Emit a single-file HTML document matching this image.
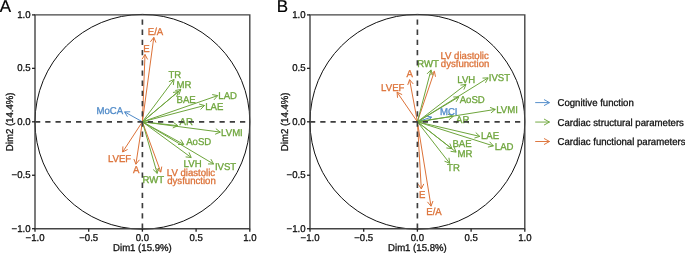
<!DOCTYPE html>
<html><head><meta charset="utf-8"><style>
html,body{margin:0;padding:0;background:#fff;}
body{width:685px;height:253px;overflow:hidden;}
svg{display:block;will-change:transform;font-family:"Liberation Sans",sans-serif;}
text{stroke-width:0.3px;paint-order:stroke;text-rendering:geometricPrecision;}
</style></head><body>
<svg width="685" height="253" viewBox="0 0 685 253">
<rect width="685" height="253" fill="#fff"/>
<circle cx="142.40" cy="121.80" r="107.40" stroke="#111" stroke-width="1.0" fill="none"/>
<path d="M142.40,121.80L124.60,111.90M127.48,116.70L124.60,111.90L130.20,111.81" stroke="#4f8ac8" stroke-width="1.0" fill="none"/>
<path d="M142.40,121.80L153.80,37.40M150.38,41.83L153.80,37.40L155.93,42.58" stroke="#dc7238" stroke-width="1.0" fill="none"/>
<path d="M142.40,121.80L145.00,54.50M142.01,59.24L145.00,54.50L147.61,59.45" stroke="#dc7238" stroke-width="1.0" fill="none"/>
<path d="M142.40,121.80L122.60,152.00M127.60,149.48L122.60,152.00L122.92,146.41" stroke="#dc7238" stroke-width="1.0" fill="none"/>
<path d="M142.40,121.80L135.90,164.20M139.40,159.83L135.90,164.20L133.87,158.98" stroke="#dc7238" stroke-width="1.0" fill="none"/>
<path d="M142.40,121.80L160.80,172.10M161.76,166.58L160.80,172.10L156.50,168.51" stroke="#dc7238" stroke-width="1.0" fill="none"/>
<path d="M142.40,121.80L174.00,79.50M168.85,81.71L174.00,79.50L173.34,85.06" stroke="#6ea53c" stroke-width="1.0" fill="none"/>
<path d="M142.40,121.80L180.80,89.50M175.29,90.48L180.80,89.50L178.89,94.76" stroke="#6ea53c" stroke-width="1.0" fill="none"/>
<path d="M142.40,121.80L178.50,91.50M172.99,92.47L178.50,91.50L176.59,96.76" stroke="#6ea53c" stroke-width="1.0" fill="none"/>
<path d="M142.40,121.80L217.70,95.60M212.20,94.55L217.70,95.60L214.04,99.84" stroke="#6ea53c" stroke-width="1.0" fill="none"/>
<path d="M142.40,121.80L204.50,105.50M199.10,104.02L204.50,105.50L200.52,109.44" stroke="#6ea53c" stroke-width="1.0" fill="none"/>
<path d="M142.40,121.80L177.90,125.70M173.39,122.39L177.90,125.70L172.77,127.95" stroke="#6ea53c" stroke-width="1.0" fill="none"/>
<path d="M142.40,121.80L220.30,132.10M215.86,128.69L220.30,132.10L215.13,134.24" stroke="#6ea53c" stroke-width="1.0" fill="none"/>
<path d="M142.40,121.80L183.70,144.40M180.79,139.62L183.70,144.40L178.10,144.53" stroke="#6ea53c" stroke-width="1.0" fill="none"/>
<path d="M142.40,121.80L191.20,157.50M188.94,152.38L191.20,157.50L185.63,156.90" stroke="#6ea53c" stroke-width="1.0" fill="none"/>
<path d="M142.40,121.80L213.60,164.00M210.86,159.12L213.60,164.00L208.00,163.94" stroke="#6ea53c" stroke-width="1.0" fill="none"/>
<path d="M142.40,121.80L157.20,173.40M158.55,167.97L157.20,173.40L153.17,169.51" stroke="#6ea53c" stroke-width="1.0" fill="none"/>
<text transform="translate(96.51,114.00) scale(1,1.04)" fill="#4f8ac8" stroke="#4f8ac8" font-size="9.6">MoCA</text>
<text transform="translate(147.81,35.00) scale(1,1.04)" fill="#dc7238" stroke="#dc7238" font-size="9.6">E/A</text>
<text transform="translate(143.21,52.40) scale(1,1.04)" fill="#dc7238" stroke="#dc7238" font-size="9.6">E</text>
<text transform="translate(107.91,161.80) scale(1,1.04)" fill="#dc7238" stroke="#dc7238" font-size="9.6">LVEF</text>
<text transform="translate(132.98,173.30) scale(1,1.04)" fill="#dc7238" stroke="#dc7238" font-size="9.6">A</text>
<text transform="translate(166.81,176.20) scale(1,1.04)" fill="#dc7238" stroke="#dc7238" font-size="9.6">LV diastolic</text>
<text transform="translate(167.20,184.00) scale(1,1.04)" fill="#dc7238" stroke="#dc7238" font-size="9.6">dysfunction</text>
<text transform="translate(168.38,78.00) scale(1,1.04)" fill="#6ea53c" stroke="#6ea53c" font-size="9.6">TR</text>
<text transform="translate(176.51,87.80) scale(1,1.04)" fill="#6ea53c" stroke="#6ea53c" font-size="9.6">MR</text>
<text transform="translate(176.51,102.80) scale(1,1.04)" fill="#6ea53c" stroke="#6ea53c" font-size="9.6">BAE</text>
<text transform="translate(218.31,98.80) scale(1,1.04)" fill="#6ea53c" stroke="#6ea53c" font-size="9.6">LAD</text>
<text transform="translate(205.21,110.00) scale(1,1.04)" fill="#6ea53c" stroke="#6ea53c" font-size="9.6">LAE</text>
<text transform="translate(179.58,124.50) scale(1,1.04)" fill="#6ea53c" stroke="#6ea53c" font-size="9.6">AR</text>
<text transform="translate(221.11,135.50) scale(1,1.04)" fill="#6ea53c" stroke="#6ea53c" font-size="9.6">LVMI</text>
<text transform="translate(186.18,145.20) scale(1,1.04)" fill="#6ea53c" stroke="#6ea53c" font-size="9.6">AoSD</text>
<text transform="translate(183.61,166.70) scale(1,1.04)" fill="#6ea53c" stroke="#6ea53c" font-size="9.6">LVH</text>
<text transform="translate(214.91,169.70) scale(1,1.04)" fill="#6ea53c" stroke="#6ea53c" font-size="9.6">IVST</text>
<text transform="translate(142.41,183.10) scale(1,1.04)" fill="#6ea53c" stroke="#6ea53c" font-size="9.6">RWT</text>
<path d="M35.00,121.80H249.80" stroke="#3d3d3d" stroke-width="1.65" stroke-dasharray="5.25 5.0"/>
<path d="M142.40,228.70V14.90" stroke="#3d3d3d" stroke-width="1.65" stroke-dasharray="5.3 4.9"/>
<path d="M35.00,14.90H249.80V228.70H35.00Z" stroke="#444" stroke-width="1.4" fill="none"/>
<path d="M32.00,228.70H35.00" stroke="#222" stroke-width="1.3"/>
<path d="M35.00,228.70V231.70" stroke="#222" stroke-width="1.3"/>
<text transform="translate(30.50,231.75) scale(1,1.04)" text-anchor="end" fill="#111" stroke="#111" font-size="9.6">−1.0</text>
<text transform="translate(35.00,240.70) scale(1,1.04)" text-anchor="middle" fill="#111" stroke="#111" font-size="9.6">−1.0</text>
<path d="M32.00,175.25H35.00" stroke="#222" stroke-width="1.3"/>
<path d="M88.70,228.70V231.70" stroke="#222" stroke-width="1.3"/>
<text transform="translate(30.50,178.30) scale(1,1.04)" text-anchor="end" fill="#111" stroke="#111" font-size="9.6">−0.5</text>
<text transform="translate(88.70,240.70) scale(1,1.04)" text-anchor="middle" fill="#111" stroke="#111" font-size="9.6">−0.5</text>
<path d="M32.00,121.80H35.00" stroke="#222" stroke-width="1.3"/>
<path d="M142.40,228.70V231.70" stroke="#222" stroke-width="1.3"/>
<text transform="translate(30.50,124.85) scale(1,1.04)" text-anchor="end" fill="#111" stroke="#111" font-size="9.6">0.0</text>
<text transform="translate(142.40,240.70) scale(1,1.04)" text-anchor="middle" fill="#111" stroke="#111" font-size="9.6">0.0</text>
<path d="M32.00,68.35H35.00" stroke="#222" stroke-width="1.3"/>
<path d="M196.10,228.70V231.70" stroke="#222" stroke-width="1.3"/>
<text transform="translate(30.50,71.40) scale(1,1.04)" text-anchor="end" fill="#111" stroke="#111" font-size="9.6">0.5</text>
<text transform="translate(196.10,240.70) scale(1,1.04)" text-anchor="middle" fill="#111" stroke="#111" font-size="9.6">0.5</text>
<path d="M32.00,14.90H35.00" stroke="#222" stroke-width="1.3"/>
<path d="M249.80,228.70V231.70" stroke="#222" stroke-width="1.3"/>
<text transform="translate(30.50,17.95) scale(1,1.04)" text-anchor="end" fill="#111" stroke="#111" font-size="9.6">1.0</text>
<text transform="translate(249.80,240.70) scale(1,1.04)" text-anchor="middle" fill="#111" stroke="#111" font-size="9.6">1.0</text>
<text transform="translate(142.40,251.00) scale(1,1.04)" text-anchor="middle" fill="#111" stroke="#111" font-size="9.6">Dim1 (15.9%)</text>
<text transform="translate(13.20,121.80) rotate(-90) scale(1,1.04)" text-anchor="middle" fill="#111" stroke="#111" font-size="9.6">Dim2 (14.4%)</text>
<text transform="translate(-0.30,11.5) scale(1,1.01)" fill="#000" stroke="#000" font-size="17" style="stroke-width:0.2px">A</text>
<circle cx="417.40" cy="121.80" r="107.40" stroke="#111" stroke-width="1.0" fill="none"/>
<path d="M417.40,121.80L431.60,117.10M426.12,115.97L431.60,117.10L427.88,121.28" stroke="#4f8ac8" stroke-width="1.0" fill="none"/>
<path d="M417.40,121.80L421.30,188.90M423.81,183.90L421.30,188.90L418.22,184.22" stroke="#dc7238" stroke-width="1.0" fill="none"/>
<path d="M417.40,121.80L431.00,206.20M432.99,200.97L431.00,206.20L427.46,201.86" stroke="#dc7238" stroke-width="1.0" fill="none"/>
<path d="M417.40,121.80L409.60,79.70M407.73,84.98L409.60,79.70L413.24,83.96" stroke="#dc7238" stroke-width="1.0" fill="none"/>
<path d="M417.40,121.80L397.10,92.20M397.53,97.78L397.10,92.20L402.15,94.62" stroke="#dc7238" stroke-width="1.0" fill="none"/>
<path d="M417.40,121.80L434.40,71.30M430.20,75.00L434.40,71.30L435.51,76.79" stroke="#dc7238" stroke-width="1.0" fill="none"/>
<path d="M417.40,121.80L431.00,69.90M427.06,73.88L431.00,69.90L432.48,75.30" stroke="#6ea53c" stroke-width="1.0" fill="none"/>
<path d="M417.40,121.80L466.00,84.40M460.45,85.14L466.00,84.40L463.86,89.58" stroke="#6ea53c" stroke-width="1.0" fill="none"/>
<path d="M417.40,121.80L488.10,77.90M482.50,78.08L488.10,77.90L485.46,82.84" stroke="#6ea53c" stroke-width="1.0" fill="none"/>
<path d="M417.40,121.80L458.90,96.90M453.30,96.99L458.90,96.90L456.18,101.80" stroke="#6ea53c" stroke-width="1.0" fill="none"/>
<path d="M417.40,121.80L495.30,109.40M490.07,107.40L495.30,109.40L490.95,112.93" stroke="#6ea53c" stroke-width="1.0" fill="none"/>
<path d="M417.40,121.80L453.30,116.30M448.08,114.27L453.30,116.30L448.93,119.80" stroke="#6ea53c" stroke-width="1.0" fill="none"/>
<path d="M417.40,121.80L479.80,136.40M475.72,132.57L479.80,136.40L474.44,138.02" stroke="#6ea53c" stroke-width="1.0" fill="none"/>
<path d="M417.40,121.80L493.40,145.90M489.62,141.77L493.40,145.90L487.93,147.10" stroke="#6ea53c" stroke-width="1.0" fill="none"/>
<path d="M417.40,121.80L451.90,148.70M449.80,143.51L451.90,148.70L446.35,147.93" stroke="#6ea53c" stroke-width="1.0" fill="none"/>
<path d="M417.40,121.80L456.10,152.10M454.01,146.91L456.10,152.10L450.56,151.31" stroke="#6ea53c" stroke-width="1.0" fill="none"/>
<path d="M417.40,121.80L449.70,163.30M448.93,157.75L449.70,163.30L444.51,161.19" stroke="#6ea53c" stroke-width="1.0" fill="none"/>
<text transform="translate(439.91,115.00) scale(1,1.04)" fill="#4f8ac8" stroke="#4f8ac8" font-size="9.6">MCI</text>
<text transform="translate(418.91,198.00) scale(1,1.04)" fill="#dc7238" stroke="#dc7238" font-size="9.6">E</text>
<text transform="translate(426.31,214.80) scale(1,1.04)" fill="#dc7238" stroke="#dc7238" font-size="9.6">E/A</text>
<text transform="translate(406.58,77.10) scale(1,1.04)" fill="#dc7238" stroke="#dc7238" font-size="9.6">A</text>
<text transform="translate(381.11,90.80) scale(1,1.04)" fill="#dc7238" stroke="#dc7238" font-size="9.6">LVEF</text>
<text transform="translate(440.41,59.00) scale(1,1.04)" fill="#dc7238" stroke="#dc7238" font-size="9.6">LV diastolic</text>
<text transform="translate(440.80,66.80) scale(1,1.04)" fill="#dc7238" stroke="#dc7238" font-size="9.6">dysfunction</text>
<text transform="translate(417.21,66.90) scale(1,1.04)" fill="#6ea53c" stroke="#6ea53c" font-size="9.6">RWT</text>
<text transform="translate(457.31,83.10) scale(1,1.04)" fill="#6ea53c" stroke="#6ea53c" font-size="9.6">LVH</text>
<text transform="translate(488.81,80.50) scale(1,1.04)" fill="#6ea53c" stroke="#6ea53c" font-size="9.6">IVST</text>
<text transform="translate(459.68,103.00) scale(1,1.04)" fill="#6ea53c" stroke="#6ea53c" font-size="9.6">AoSD</text>
<text transform="translate(496.21,112.50) scale(1,1.04)" fill="#6ea53c" stroke="#6ea53c" font-size="9.6">LVMI</text>
<text transform="translate(456.08,122.80) scale(1,1.04)" fill="#6ea53c" stroke="#6ea53c" font-size="9.6">AR</text>
<text transform="translate(481.01,138.80) scale(1,1.04)" fill="#6ea53c" stroke="#6ea53c" font-size="9.6">LAE</text>
<text transform="translate(494.81,150.40) scale(1,1.04)" fill="#6ea53c" stroke="#6ea53c" font-size="9.6">LAD</text>
<text transform="translate(452.41,147.10) scale(1,1.04)" fill="#6ea53c" stroke="#6ea53c" font-size="9.6">BAE</text>
<text transform="translate(457.51,156.80) scale(1,1.04)" fill="#6ea53c" stroke="#6ea53c" font-size="9.6">MR</text>
<text transform="translate(447.08,171.30) scale(1,1.04)" fill="#6ea53c" stroke="#6ea53c" font-size="9.6">TR</text>
<path d="M310.00,121.80H524.80" stroke="#3d3d3d" stroke-width="1.65" stroke-dasharray="5.25 5.0"/>
<path d="M417.40,228.70V14.90" stroke="#3d3d3d" stroke-width="1.65" stroke-dasharray="5.3 4.9"/>
<path d="M310.00,14.90H524.80V228.70H310.00Z" stroke="#444" stroke-width="1.4" fill="none"/>
<path d="M307.00,228.70H310.00" stroke="#222" stroke-width="1.3"/>
<path d="M310.00,228.70V231.70" stroke="#222" stroke-width="1.3"/>
<text transform="translate(305.50,231.75) scale(1,1.04)" text-anchor="end" fill="#111" stroke="#111" font-size="9.6">−1.0</text>
<text transform="translate(310.00,240.70) scale(1,1.04)" text-anchor="middle" fill="#111" stroke="#111" font-size="9.6">−1.0</text>
<path d="M307.00,175.25H310.00" stroke="#222" stroke-width="1.3"/>
<path d="M363.70,228.70V231.70" stroke="#222" stroke-width="1.3"/>
<text transform="translate(305.50,178.30) scale(1,1.04)" text-anchor="end" fill="#111" stroke="#111" font-size="9.6">−0.5</text>
<text transform="translate(363.70,240.70) scale(1,1.04)" text-anchor="middle" fill="#111" stroke="#111" font-size="9.6">−0.5</text>
<path d="M307.00,121.80H310.00" stroke="#222" stroke-width="1.3"/>
<path d="M417.40,228.70V231.70" stroke="#222" stroke-width="1.3"/>
<text transform="translate(305.50,124.85) scale(1,1.04)" text-anchor="end" fill="#111" stroke="#111" font-size="9.6">0.0</text>
<text transform="translate(417.40,240.70) scale(1,1.04)" text-anchor="middle" fill="#111" stroke="#111" font-size="9.6">0.0</text>
<path d="M307.00,68.35H310.00" stroke="#222" stroke-width="1.3"/>
<path d="M471.10,228.70V231.70" stroke="#222" stroke-width="1.3"/>
<text transform="translate(305.50,71.40) scale(1,1.04)" text-anchor="end" fill="#111" stroke="#111" font-size="9.6">0.5</text>
<text transform="translate(471.10,240.70) scale(1,1.04)" text-anchor="middle" fill="#111" stroke="#111" font-size="9.6">0.5</text>
<path d="M307.00,14.90H310.00" stroke="#222" stroke-width="1.3"/>
<path d="M524.80,228.70V231.70" stroke="#222" stroke-width="1.3"/>
<text transform="translate(305.50,17.95) scale(1,1.04)" text-anchor="end" fill="#111" stroke="#111" font-size="9.6">1.0</text>
<text transform="translate(524.80,240.70) scale(1,1.04)" text-anchor="middle" fill="#111" stroke="#111" font-size="9.6">1.0</text>
<text transform="translate(417.40,251.00) scale(1,1.04)" text-anchor="middle" fill="#111" stroke="#111" font-size="9.6">Dim1 (15.8%)</text>
<text transform="translate(288.20,121.80) rotate(-90) scale(1,1.04)" text-anchor="middle" fill="#111" stroke="#111" font-size="9.6">Dim2 (14.4%)</text>
<text transform="translate(276.80,11.5) scale(1,1.01)" fill="#000" stroke="#000" font-size="17" style="stroke-width:0.2px">B</text>
<path d="M535.20,102.60L549.50,102.60M543.99,99.55L549.50,102.60L543.99,105.65" stroke="#4f8ac8" stroke-width="0.95" fill="none"/>
<text transform="translate(557.51,106.45) scale(1,1.04)" fill="#111" stroke="#111" font-size="9.6">Cognitive function</text>
<path d="M535.20,122.05L549.50,122.05M543.99,119.00L549.50,122.05L543.99,125.10" stroke="#6ea53c" stroke-width="0.95" fill="none"/>
<text transform="translate(557.51,125.90) scale(1,1.04)" fill="#111" stroke="#111" font-size="9.6">Cardiac structural parameters</text>
<path d="M535.20,141.50L549.50,141.50M543.99,138.45L549.50,141.50L543.99,144.55" stroke="#dc7238" stroke-width="0.95" fill="none"/>
<text transform="translate(557.51,145.35) scale(1,1.04)" fill="#111" stroke="#111" font-size="9.6">Cardiac functional parameters</text>
</svg>
</body></html>
